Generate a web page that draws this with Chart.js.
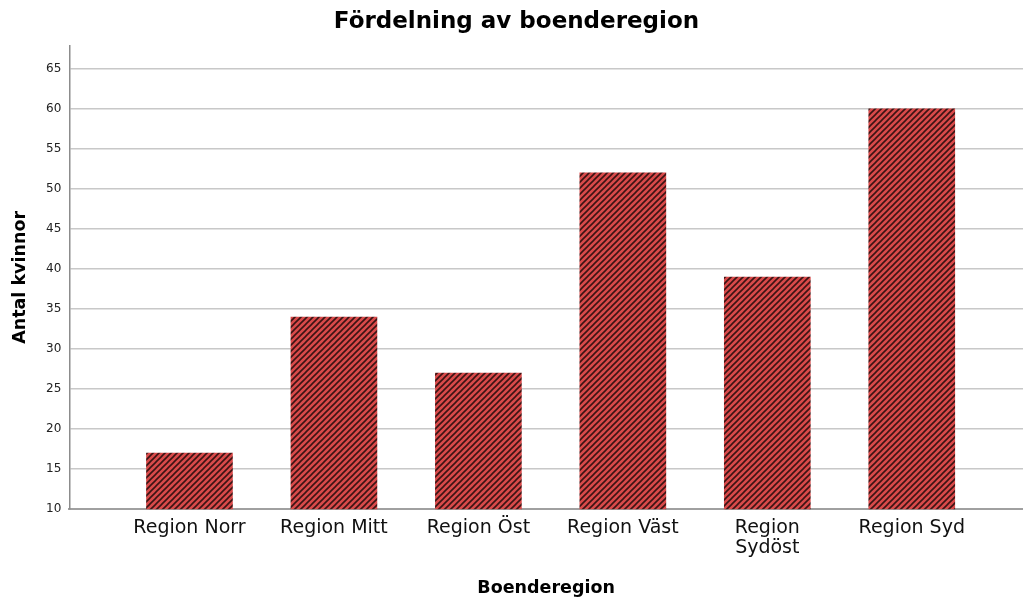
<!DOCTYPE html>
<html lang="sv">
<head>
    <meta charset="UTF-8">
    <title>Fördelning av boenderegion</title>
    <script src="https://cdn.jsdelivr.net/npm/chart.js"></script>
    <style>
        body {
            margin: 0;
            padding: 0;
            background: #ffffff;
        }
        .chart-container {
            position: relative;
            width: 1023px;
            height: 599px;
        }
    </style>
</head>
<body>
    <div class="chart-container">
        <canvas id="regionChart"></canvas>
    </div>

    <script>
        // data
        const regions = ["Region Norr", "Region Mitt", "Region Öst", "Region Väst", ["Region", "Sydöst"], "Region Syd"];
        const counts = [17, 34, 27, 52, 39, 60];
        const yTicks = [10, 15, 20, 25, 30, 35, 40, 45, 50, 55, 60, 65];

        const FONT = "'DejaVu Sans', sans-serif";

        // red fill with dark diagonal hatch
        function makeHatch() {
            const size = 6;
            const c = document.createElement('canvas');
            c.width = size;
            c.height = size;
            const g = c.getContext('2d');
            g.fillStyle = '#d94a4a';
            g.fillRect(0, 0, size, size);
            g.strokeStyle = '#3b1414';
            g.lineWidth = 1.6;
            g.beginPath();
            g.moveTo(-1, size + 1);
            g.lineTo(size + 1, -1);
            g.moveTo(-1, 1);
            g.lineTo(1, -1);
            g.moveTo(size - 1, size + 1);
            g.lineTo(size + 1, size - 1);
            g.stroke();
            return g.createPattern(c, 'repeat');
        }

        const ctx = document.getElementById('regionChart').getContext('2d');
        new Chart(ctx, {
            type: 'bar',
            data: {
                datasets: [{
                    data: counts.map((v, i) => ({ x: i, y: v })),
                    backgroundColor: makeHatch(),
                    borderWidth: 0,
                    barThickness: 86
                }]
            },
            options: {
                responsive: true,
                maintainAspectRatio: false,
                animation: false,
                layout: { padding: { top: 6, right: 0, bottom: 0, left: 10 } },
                plugins: {
                    legend: { display: false },
                    tooltip: { enabled: false },
                    title: {
                        display: true,
                        text: 'Fördelning av boenderegion',
                        color: '#000',
                        font: { family: FONT, size: 23, weight: 'bold' },
                        padding: { top: 2, bottom: 10 }
                    }
                },
                scales: {
                    x: {
                        type: 'linear',
                        offset: false,
                        min: -0.832,
                        max: 5.77,
                        afterBuildTicks: axis => {
                            axis.ticks = regions.map((r, i) => ({ value: i }));
                        },
                        ticks: {
                            autoSkip: false,
                            maxRotation: 0,
                            color: '#111',
                            font: { family: FONT, size: 19, lineHeight: 1.1 },
                            padding: 8,
                            callback: v => regions[v]
                        },
                        grid: { display: false, drawTicks: false },
                        border: { color: '#a0a0a0', width: 2 },
                        title: {
                            display: true,
                            text: 'Boenderegion',
                            color: '#000',
                            font: { family: FONT, size: 17.5, weight: 'bold' },
                            padding: { top: 11, bottom: 0 }
                        }
                    },
                    y: {
                        min: 10,
                        max: 67.9,
                        afterBuildTicks: axis => {
                            axis.ticks = yTicks.map(v => ({ value: v }));
                        },
                        ticks: {
                            color: '#222',
                            font: { family: FONT, size: 12 },
                            padding: 8
                        },
                        grid: {
                            color: '#c8c8c8',
                            lineWidth: 1.5,
                            drawTicks: false
                        },
                        border: { color: '#8c8c8c', width: 1.5 },
                        title: {
                            display: true,
                            text: 'Antal kvinnor',
                            color: '#000',
                            font: { family: FONT, size: 17.5, weight: 'bold' },
                            padding: { top: 0, bottom: 7 }
                        }
                    }
                }
            }
        });
    </script>
</body>
</html>
